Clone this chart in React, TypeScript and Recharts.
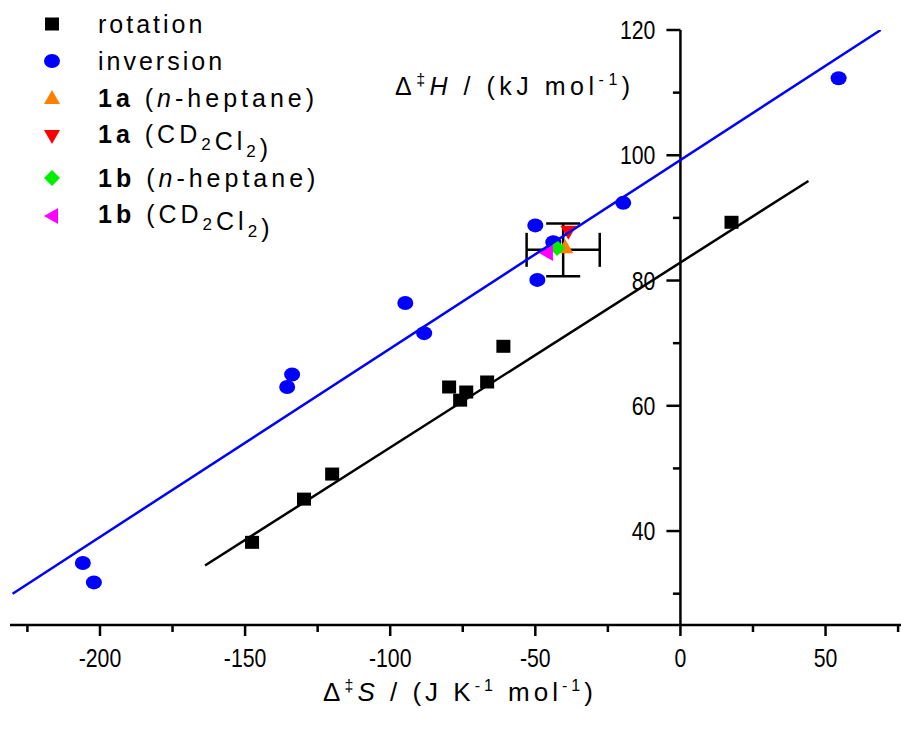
import React from 'react';
import { ComposedChart, Scatter, XAxis, YAxis, ReferenceLine, ErrorBar } from 'recharts';

// ---- data ----
const rotationS = [-147.6, -129.7, -120, -79.7, -75.9, -73.8, -66.6, -61, 17.6];
const rotationH = [38.2, 45.1, 49.1, 63.0, 60.9, 62.2, 63.8, 69.5, 89.3];
const inversionS = [-205.9, -202.1, -135.5, -133.8, -94.8, -88.3, -50, -49.3, -43.8, -19.7, 54.5];
const inversionH = [34.9, 31.8, 63.0, 65.0, 76.4, 71.6, 88.8, 80.1, 86.1, 92.4, 112.3];
const a1HeptanePoint = [{ S: -39.7, H: 85.3 }];
const a1CD2Cl2Point = [{ S: -38.6, H: 87.8 }];
const b1HeptanePoint = [{ S: -42.5, H: 85.2 }];
const b1CD2Cl2Point = [{ S: -46, H: 84.4 }];
const errorPoint = [{ S: -40.4, H: 84.9, ex: 12.6, ey: 4.2 }];
const inversionFit = [{ S: -230.1, H: 30.0 }, { S: 69, H: 120 }];
const rotationFit = [{ S: -163.8, H: 34.5 }, { S: 44.1, H: 95.9 }];
const xTicks = [-225, -200, -175, -150, -125, -100, -75, -50, -25, 0, 25, 50, 75];
const xMajorStep = 50;
const yMajorTicks = [40, 60, 80, 100, 120];
const yMinorTicks = [30, 50, 70, 90, 110];
const xDomain = [-231, 76];
const yDomain = [25, 120];

const rotationData = rotationS.map((s, i) => ({ S: s, H: rotationH[i] }));
const inversionData = inversionS.map((s, i) => ({ S: s, H: inversionH[i] }));

const FONT = '"Liberation Sans", Arial, sans-serif';
const TICK_FS = 25;
const TICK_SX = 0.85;

const SquareShape = (p: any) => <rect x={p.cx - 7} y={p.cy - 6.5} width={14} height={13} fill="#000" />;
const CircleShape = (p: any) => <ellipse cx={p.cx} cy={p.cy} rx={8} ry={7} fill="#0000ff" />;
const UpTri = (p: any) => <polygon points={`${p.cx},${p.cy - 8} ${p.cx + 8},${p.cy + 6} ${p.cx - 8},${p.cy + 6}`} fill="#ff7f00" />;
const DownTri = (p: any) => <polygon points={`${p.cx - 8},${p.cy - 6} ${p.cx + 8},${p.cy - 6} ${p.cx},${p.cy + 8}`} fill="#ff0000" />;
const Diamond = (p: any) => <polygon points={`${p.cx},${p.cy - 8} ${p.cx + 8},${p.cy} ${p.cx},${p.cy + 8} ${p.cx - 8},${p.cy}`} fill="#00ee00" />;
const LeftTri = (p: any) => <polygon points={`${p.cx - 8},${p.cy} ${p.cx + 6},${p.cy - 8} ${p.cx + 6},${p.cy + 8}`} fill="#ff00ff" />;
const NoShape = () => <g />;

const XTick = (props: any) => {
  const { x, y, payload } = props;
  const v = payload.value;
  const major = v % xMajorStep === 0;
  return (
    <g>
      <line x1={x} x2={x} y1={y} y2={y + (major ? 11 : 7)} stroke="#000" strokeWidth={2.5} />
      {major && (
        <text
          transform={`translate(${x},${y + 42}) scale(${TICK_SX},1)`}
          textAnchor="middle"
          fontSize={TICK_FS}
          fontFamily={FONT}
          fill="#000"
        >
          {String(v)}
        </text>
      )}
    </g>
  );
};

const YLabel = (props: any) => {
  const vb = props.viewBox || {};
  const x = (vb.x ?? 0) - 11;
  const y = (vb.y ?? 0) + (vb.height ?? 0) / 2;
  return (
    <text
      transform={`translate(${x},${y + 9}) scale(${TICK_SX},1)`}
      textAnchor="end"
      fontSize={TICK_FS}
      fontFamily={FONT}
      fill="#000"
    >
      {props.text}
    </text>
  );
};

const pxPerX = 891 / (xDomain[1] - xDomain[0]);

const legendRows = [
  { cy: 24, base: 33, marker: 'square' },
  { cy: 61, base: 70, marker: 'circle' },
  { cy: 98, base: 107, marker: 'up' },
  { cy: 136, base: 143, marker: 'down' },
  { cy: 178, base: 187, marker: 'diamond' },
  { cy: 216, base: 223, marker: 'left' },
];

const LegendMarker = ({ kind, cx, cy }: any) => {
  switch (kind) {
    case 'square': return <SquareShape cx={cx} cy={cy} />;
    case 'circle': return <CircleShape cx={cx} cy={cy} />;
    case 'up': return <UpTri cx={cx} cy={cy} />;
    case 'down': return <DownTri cx={cx} cy={cy} />;
    case 'diamond': return <Diamond cx={cx} cy={cy} />;
    default: return <LeftTri cx={cx} cy={cy} />;
  }
};

const Sub2 = () => (
  <>
    <tspan dy={7} fontSize={17}>2</tspan>
    <tspan dy={-7}></tspan>
  </>
);

export default function App() {
  return (
    <div style={{ position: 'absolute', left: 0, top: 0, width: 901, height: 729, background: '#fff' }}>
      <ComposedChart width={901} height={729} margin={{ top: 30, right: 0, bottom: 44, left: 10 }}>
        <XAxis
          type="number"
          dataKey="S"
          domain={xDomain}
          ticks={xTicks}
          interval={0}
          allowDataOverflow
          height={60}
          tickSize={0}
          tickMargin={0}
          tickLine={false}
          axisLine={{ stroke: '#000', strokeWidth: 2.5 }}
          tick={<XTick />}
        />
        <YAxis type="number" dataKey="H" domain={yDomain} allowDataOverflow hide />
        <ReferenceLine segment={[{ x: 0, y: yDomain[0] }, { x: 0, y: yDomain[1] }]} stroke="#000" strokeWidth={2.5} ifOverflow="visible" />
        {yMajorTicks.map((v) => (
          <ReferenceLine
            key={'M' + v}
            segment={[{ x: -14 / pxPerX, y: v }, { x: 0, y: v }]}
            stroke="#000"
            strokeWidth={2.5}
            ifOverflow="visible"
            label={<YLabel text={String(v)} />}
          />
        ))}
        {yMinorTicks.map((v) => (
          <ReferenceLine
            key={'m' + v}
            segment={[{ x: -7.5 / pxPerX, y: v }, { x: 0, y: v }]}
            stroke="#000"
            strokeWidth={2.5}
            ifOverflow="visible"
          />
        ))}
        <Scatter name="rotation" data={rotationData} shape={SquareShape} isAnimationActive={false} />
        <Scatter name="inversion" data={inversionData} shape={CircleShape} isAnimationActive={false} />
        <Scatter name="1a (n-heptane)" data={a1HeptanePoint} shape={UpTri} isAnimationActive={false} />
        <Scatter name="1a (CD2Cl2)" data={a1CD2Cl2Point} shape={DownTri} isAnimationActive={false} />
        <Scatter name="1b (n-heptane)" data={b1HeptanePoint} shape={Diamond} isAnimationActive={false} />
        <Scatter name="1b (CD2Cl2)" data={b1CD2Cl2Point} shape={LeftTri} isAnimationActive={false} />
        <Scatter data={rotationFit} line={{ stroke: '#000', strokeWidth: 2.5 }} shape={NoShape} isAnimationActive={false} legendType="none" />
        <Scatter data={inversionFit} line={{ stroke: '#0000ff', strokeWidth: 2.5 }} shape={NoShape} isAnimationActive={false} legendType="none" />
        <Scatter data={errorPoint} shape={NoShape} isAnimationActive={false} legendType="none">
          <ErrorBar dataKey="ex" direction="x" width={17} stroke="#000" strokeWidth={2.5} />
          <ErrorBar dataKey="ey" direction="y" width={17} stroke="#000" strokeWidth={2.5} />
        </Scatter>
      </ComposedChart>
      <svg width={901} height={729} style={{ position: 'absolute', left: 0, top: 0, pointerEvents: 'none' }}>
        {legendRows.map((r) => (
          <LegendMarker key={r.marker} kind={r.marker} cx={52} cy={r.cy} />
        ))}
        <g fontFamily={FONT} fontSize={25} fill="#000">
          <text x={98} y={legendRows[0].base} letterSpacing={3}>rotation</text>
          <text x={98} y={legendRows[1].base} letterSpacing={3}>inversion</text>
          <text x={98} y={legendRows[2].base} letterSpacing={4}>
            <tspan fontWeight="bold">1a</tspan> (<tspan fontStyle="italic">n</tspan>-heptane)
          </text>
          <text x={98} y={legendRows[3].base} letterSpacing={4}>
            <tspan fontWeight="bold">1a</tspan> (CD<Sub2 />Cl<Sub2 />)
          </text>
          <text x={98} y={legendRows[4].base} letterSpacing={4}>
            <tspan fontWeight="bold">1b</tspan> (<tspan fontStyle="italic">n</tspan>-heptane)
          </text>
          <text x={98} y={legendRows[5].base} letterSpacing={4}>
            <tspan fontWeight="bold">1b</tspan> (CD<Sub2 />Cl<Sub2 />)
          </text>
          <text x={395} y={95} letterSpacing={4.5}>
            Δ<tspan dy={-10} fontSize={16}>‡</tspan>
            <tspan dy={10} fontStyle="italic">H</tspan> / (kJ mol
            <tspan dy={-10} fontSize={16}>-1</tspan>
            <tspan dy={10}>)</tspan>
          </text>
          <text x={460} y={701} textAnchor="middle" fontSize={26} letterSpacing={4}>
            Δ<tspan dy={-10} fontSize={16}>‡</tspan>
            <tspan dy={10} fontStyle="italic">S</tspan> / (J K
            <tspan dy={-10} fontSize={16}>-1</tspan>
            <tspan dy={10}> mol</tspan>
            <tspan dy={-10} fontSize={16}>-1</tspan>
            <tspan dy={10}>)</tspan>
          </text>
        </g>
      </svg>
    </div>
  );
}
